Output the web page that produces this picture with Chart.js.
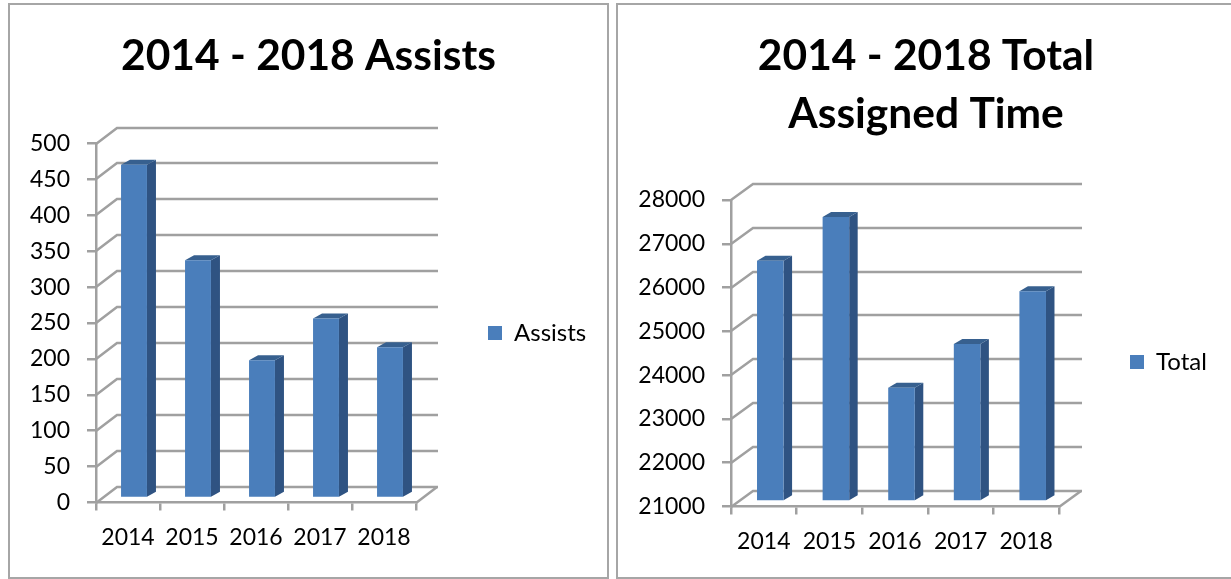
<!DOCTYPE html>
<html>
<head>
<meta charset="utf-8">
<script src="https://cdn.jsdelivr.net/npm/chart.js@4"></script>
<style>
  html, body { margin: 0; background: #fff; overflow: hidden; width: 1231px; height: 579px; }
  .panel { position: absolute; top: 3px; height: 572px; border: 2px solid #a6a6a6; background: #fff; }
  #panelA { left: 8px; width: 597px; }
  #panelB { left: 616px; width: 616px; }
  canvas { display: block; }
</style>
</head>
<body>
<div class="panel" id="panelA"><canvas id="assists" width="597" height="572"></canvas></div>
<div class="panel" id="panelB"><canvas id="total" width="616" height="572"></canvas></div>
<script>
const years = ['2014', '2015', '2016', '2017', '2018'];
const assists = [464, 331, 192, 250, 210];
const totalTime = [26500, 27500, 23600, 24600, 25800];

const gridColor = '#a0a0a0';
const barFront = '#4a7ebb';
const barSide = '#2f5382';
const barTop = '#37608f';

// --- fake 3D: walls behind the bars, side and top faces on each bar ---
const depth3d = {
  id: 'depth3d',
  afterLayout(chart) {
    const o = chart.options.plugins.depth3d;
    chart.legend.left = o.legendX;
    chart.legend.right = o.legendX + chart.legend.width;
    chart.legend.top = o.legendY;
    chart.legend.bottom = o.legendY + chart.legend.height;
    // title centres on the whole panel, not on the padded plot
    chart.titleBlock.left = 0;
    chart.titleBlock.right = chart.width;
    chart.titleBlock.width = chart.width;
  },
  beforeDatasetsDraw(chart) {
    const o = chart.options.plugins.depth3d;
    const { ctx, chartArea, scales } = chart;
    ctx.save();
    ctx.strokeStyle = gridColor;
    ctx.lineWidth = 2.5;
    scales.y.ticks.forEach((t) => {
      const y = Math.round(scales.y.getPixelForValue(t.value));
      ctx.beginPath();
      ctx.moveTo(chartArea.left, y);
      ctx.lineTo(chartArea.left + o.wallX, y - o.wallY);
      ctx.lineTo(chartArea.right + o.wallX + 1, y - o.wallY);
      ctx.stroke();
    });
    const b = Math.round(chartArea.bottom);
    ctx.beginPath();
    ctx.moveTo(chartArea.right, b);
    ctx.lineTo(chartArea.right + o.wallX, b - o.wallY);
    ctx.stroke();
    ctx.restore();
  },
  beforeDatasetDraw(chart, args) {
    const o = chart.options.plugins.depth3d;
    const { ctx } = chart;
    ctx.save();
    ctx.translate(o.barX, o.barY);
    args.meta.data.forEach((bar) => {
      const { x, y, base, width } = bar.getProps(['x', 'y', 'base', 'width'], true);
      const x1 = x - width / 2;
      const x2 = x + width / 2;
      ctx.fillStyle = barSide;
      ctx.beginPath();
      ctx.moveTo(x2, y);
      ctx.lineTo(x2 + o.barDepth, y - 5);
      ctx.lineTo(x2 + o.barDepth, base - 5);
      ctx.lineTo(x2, base);
      ctx.closePath();
      ctx.fill();
      ctx.fillStyle = barTop;
      ctx.beginPath();
      ctx.moveTo(x1, y);
      ctx.lineTo(x1 + o.barDepth, y - 5);
      ctx.lineTo(x2 + o.barDepth, y - 5);
      ctx.lineTo(x2, y);
      ctx.closePath();
      ctx.fill();
    });
  },
  afterDatasetDraw(chart) {
    chart.ctx.restore();
  },
};

const makeChart = (id, cfg) => new Chart(document.getElementById(id), {
  type: 'bar',
  data: {
    labels: years,
    datasets: [{
      label: cfg.label,
      data: cfg.values,
      base: cfg.min,
      backgroundColor: barFront,
      barPercentage: 0.405,
      categoryPercentage: 1,
      clip: false,
    }],
  },
  plugins: [depth3d],
  options: {
    responsive: false,
    animation: false,
    layout: { padding: { left: 0, top: 0, right: cfg.padRight, bottom: 0 } },
    plugins: {
      tooltip: { enabled: false },
      title: {
        display: true,
        text: cfg.title,
        color: '#000',
        font: { family: 'Lato', size: 42.5, weight: 'bold', lineHeight: 1.365 },
        padding: { top: 22, bottom: cfg.titleGap },
      },
      legend: {
        position: 'chartArea',
        align: 'start',
        labels: {
          boxWidth: 14,
          boxHeight: 14,
          padding: 0,
          color: '#000',
          font: { family: 'Lato', size: 24 },
        },
      },
      depth3d: cfg.depth,
    },
    scales: {
      x: {
        afterFit: (s) => { s.height = cfg.xHeight; },
        grid: { drawOnChartArea: false, color: gridColor, lineWidth: 2.5, tickLength: 8 },
        border: { color: gridColor, width: 2.5 },
        ticks: { color: '#000', padding: 13, maxRotation: 0, font: { family: 'Lato', size: 23 } },
      },
      y: {
        min: cfg.min,
        max: cfg.max,
        afterFit: (s) => { s.width = cfg.yWidth; },
        grid: { drawOnChartArea: false, color: gridColor, lineWidth: 2.5, tickLength: 9 },
        border: { color: gridColor, width: 2.5 },
        ticks: {
          stepSize: cfg.step,
          color: '#000',
          padding: 17,
          font: { family: 'Lato', size: 23 },
          callback: (v) => String(v),
        },
      },
    },
  },
});

makeChart('assists', {
  label: 'Assists',
  values: assists,
  title: '2014 - 2018 Assists',
  titleGap: 58.5,
  padRight: 191,
  yWidth: 86,
  xHeight: 74.5,
  min: 0,
  max: 500,
  step: 50,
  depth: { wallX: 21, wallY: 16, barX: 6, barY: -4.5, barDepth: 9, legendX: 478, legendY: 316 },
});

makeChart('total', {
  label: 'Total',
  values: totalTime,
  title: ['2014 - 2018 Total', 'Assigned Time'],
  titleGap: 57,
  padRight: 175,
  yWidth: 113,
  xHeight: 70.5,
  min: 21000,
  max: 28000,
  step: 1000,
  depth: { wallX: 22, wallY: 16, barX: 6.5, barY: -5, barDepth: 8.5, legendX: 512, legendY: 345 },
});
</script>
</body>
</html>
